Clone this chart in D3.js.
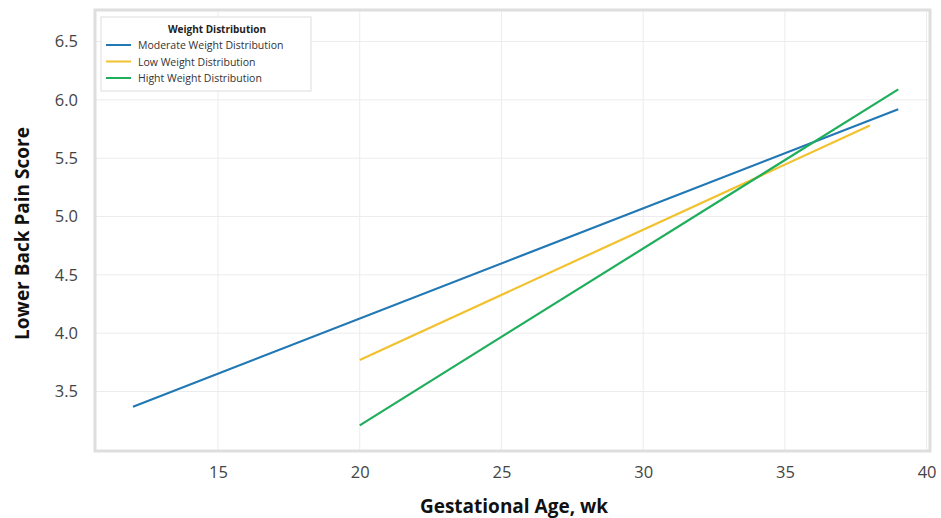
<!DOCTYPE html>
<html>
<head>
<meta charset="utf-8">
<script src="https://cdn.jsdelivr.net/npm/d3@7"></script>
<style>
  body { margin: 0; background: #fff; }
  text { font-family: "Open Sans", "Noto Sans", sans-serif; }
</style>
</head>
<body>
<svg id="chart" width="941" height="518"></svg>
<script>
// series (two end points of each fitted line)
const seriesNames = ['Moderate Weight Distribution', 'Low Weight Distribution', 'Hight Weight Distribution'];
const seriesColors = ['#2178b4', '#f2c12e', '#1fae5b'];
const moderateX = [12, 39];
const moderateY = [3.37, 5.92];
const lowX = [20, 38];
const lowY = [3.77, 5.78];
const highX = [20, 39];
const highY = [3.21, 6.09];
const xTicks = [15, 20, 25, 30, 35, 40];
const yTicks = [3.5, 4.0, 4.5, 5.0, 5.5, 6.0, 6.5];

const svg = d3.select('#chart');
const plot = { left: 95, right: 930, top: 10, bottom: 451 };

const x = d3.scaleLinear().domain([10.66, 40.12]).range([plot.left, plot.right]);
const y = d3.scaleLinear().domain([2.99, 6.77]).range([plot.bottom, plot.top]);

// grid
const grid = svg.append('g');
grid.selectAll('line.gx').data(xTicks).enter().append('line')
  .attr('x1', d => x(d)).attr('x2', d => x(d))
  .attr('y1', plot.top).attr('y2', plot.bottom)
  .attr('stroke', '#ececec').attr('stroke-width', 1);
grid.selectAll('line.gy').data(yTicks).enter().append('line')
  .attr('y1', d => y(d)).attr('y2', d => y(d))
  .attr('x1', plot.left).attr('x2', plot.right)
  .attr('stroke', '#ececec').attr('stroke-width', 1);

// axes (labels only)
const xAxis = svg.append('g')
  .attr('transform', `translate(0,${plot.bottom + 9})`)
  .call(d3.axisBottom(x).tickValues(xTicks).tickSize(0).tickPadding(6).tickFormat(d3.format('d')));
const yAxis = svg.append('g')
  .attr('transform', `translate(${plot.left - 11},0)`)
  .call(d3.axisLeft(y).tickValues(yTicks).tickSize(0).tickPadding(6).tickFormat(d3.format('.1f')));
[xAxis, yAxis].forEach(a => {
  a.select('.domain').remove();
  a.selectAll('text').attr('font-size', 16.5).attr('fill', '#444')
    .attr('font-family', '"Open Sans", sans-serif');
});

// frame
svg.append('rect')
  .attr('x', plot.left).attr('y', plot.top)
  .attr('width', plot.right - plot.left).attr('height', plot.bottom - plot.top)
  .attr('fill', 'none').attr('stroke', '#dedede').attr('stroke-width', 3);

// lines
const series = [
  { xs: moderateX, ys: moderateY },
  { xs: lowX, ys: lowY },
  { xs: highX, ys: highY }
];
const line = d3.line().x(d => x(d[0])).y(d => y(d[1]));
series.forEach((s, i) => {
  svg.append('path')
    .datum(s.xs.map((v, j) => [v, s.ys[j]]))
    .attr('d', line)
    .attr('fill', 'none')
    .attr('stroke', seriesColors[i])
    .attr('stroke-width', 2.2);
});

// axis titles
svg.append('text')
  .attr('x', 514).attr('y', 513)
  .attr('text-anchor', 'middle').attr('font-size', 19).attr('font-weight', 'bold')
  .attr('fill', '#111').text('Gestational Age, wk');
svg.append('text')
  .attr('transform', `translate(29,${(plot.top + plot.bottom) / 2 + 3}) rotate(-90)`)
  .attr('text-anchor', 'middle').attr('font-size', 19).attr('font-weight', 'bold')
  .attr('fill', '#111').text('Lower Back Pain Score');

// legend
const lg = svg.append('g').attr('transform', 'translate(101,17)');
lg.append('rect').attr('width', 210).attr('height', 74)
  .attr('fill', '#fff').attr('stroke', '#dddddd').attr('stroke-width', 1);
lg.append('text').attr('x', 116).attr('y', 16)
  .attr('text-anchor', 'middle').attr('font-size', 10).attr('font-weight', 'bold')
  .attr('fill', '#222').text('Weight Distribution');
seriesNames.forEach((name, i) => {
  const yy = 28 + i * 16.5;
  lg.append('line').attr('x1', 5).attr('x2', 30).attr('y1', yy).attr('y2', yy)
    .attr('stroke', seriesColors[i]).attr('stroke-width', 2);
  lg.append('text').attr('x', 37).attr('y', yy + 4)
    .attr('font-size', 10.5).attr('fill', '#333').text(name);
});
</script>
</body>
</html>
